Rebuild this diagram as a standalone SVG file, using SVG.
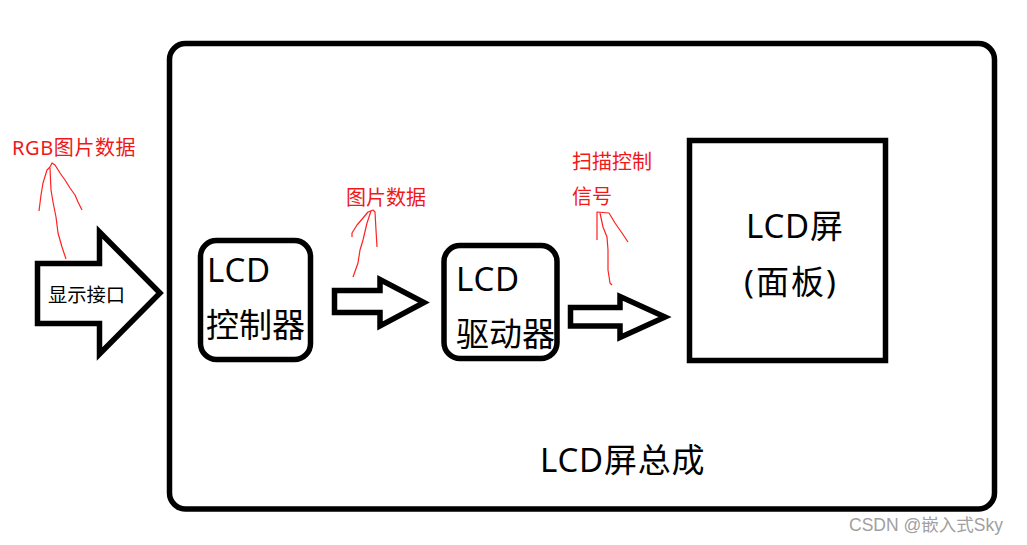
<svg xmlns="http://www.w3.org/2000/svg" width="1027" height="545" viewBox="0 0 1027 545">
<style>
.box{fill:#fff;stroke:#000;stroke-width:5.5}
.arrow{fill:#fff;stroke:#000;stroke-width:5.5;stroke-linejoin:miter}
.t{font-family:"Noto Sans","Noto Sans CJK SC",sans-serif;fill:#000}
.big{font-size:33px}
.red{font-family:"Noto Sans","Noto Sans CJK SC",sans-serif;fill:#f01818;font-size:20px}
.sq{fill:none;stroke:#ff2020;stroke-width:1.2;stroke-linejoin:round}
</style>
<rect width="1027" height="545" fill="#fff"/>
<g id="lcd-assembly">
<rect class="box" x="169.5" y="43.5" width="825" height="465.5" rx="16"/>
<text class="t big" x="540" y="472" letter-spacing="0.8">LCD屏总成</text>
</g>
<g id="connectors">
<polygon id="display-interface-arrow" class="arrow" points="37.5,263.5 99.5,263.5 99.5,232 160,293 99.5,354 99.5,323.5 37.5,323.5"/>
<polygon class="arrow" points="334.5,290.5 380,290.5 380,279.5 424,302.5 380,326 380,312.5 334.5,312.5"/>
<polygon class="arrow" points="570.5,307.5 620,307.5 620,296.5 665,317 620,337.5 620,326 570.5,326"/>
</g>
<g id="display-interface">
<text class="t" x="48" y="302" font-size="19.3">显示接口</text>
</g>
<g id="lcd-controller">
<rect class="box" x="200.5" y="240.5" width="110" height="119" rx="16"/>
<text class="t big" x="207" y="282" letter-spacing="0.8">LCD</text>
<text class="t big" x="206" y="337">控制器</text>
</g>
<g id="lcd-driver">
<rect class="box" x="444" y="245.5" width="113" height="113" rx="16"/>
<text class="t big" x="456" y="291" letter-spacing="0.8">LCD</text>
<text class="t big" x="456" y="346">驱动器</text>
</g>
<g id="lcd-screen">
<rect class="box" x="689.5" y="140.5" width="196" height="220"/>
<text class="t big" x="746" y="238" letter-spacing="0.8">LCD屏</text>
<text class="t big" x="744" y="294" letter-spacing="2">(面板)</text>
</g>
<g id="annotations">
<text class="red" x="12" y="155" letter-spacing="0.6">RGB图片数据</text>
<path class="sq" d="M39,211 L41,195 L43,183 L47,170 L50,167 L52,163 L55,165 L60,173 L65,180 L70,188 L75,195 L78,202 L82,210"/>
<path class="sq" d="M50,168 L51,190 L53,202 L56,217 L58,233 L62,247 L66,259"/>
<text class="red" x="346" y="205">图片数据</text>
<path class="sq" d="M352,237 L352,233 L357,225 L363,218 L368,212 L373,210 L375,212 L376,230 L377,247"/>
<path class="sq" d="M371,211 L367,223 L363,240 L360,250 L358,263 L353,277"/>
<text class="red" x="572" y="169">扫描控制</text>
<text class="red" x="572" y="204">信号</text>
<path class="sq" d="M597,240 L597,212 L609,213 L615,223 L622,233 L628,242"/>
<path class="sq" d="M600,213 L603,227 L607,237 L608,250 L608,270 L610,283 L612,285"/>
</g>
<text x="849" y="531" font-family="Liberation Sans, Noto Sans CJK SC, sans-serif" font-size="17.5" fill="#a0a0a0">CSDN @嵌入式Sky</text>
</svg>
